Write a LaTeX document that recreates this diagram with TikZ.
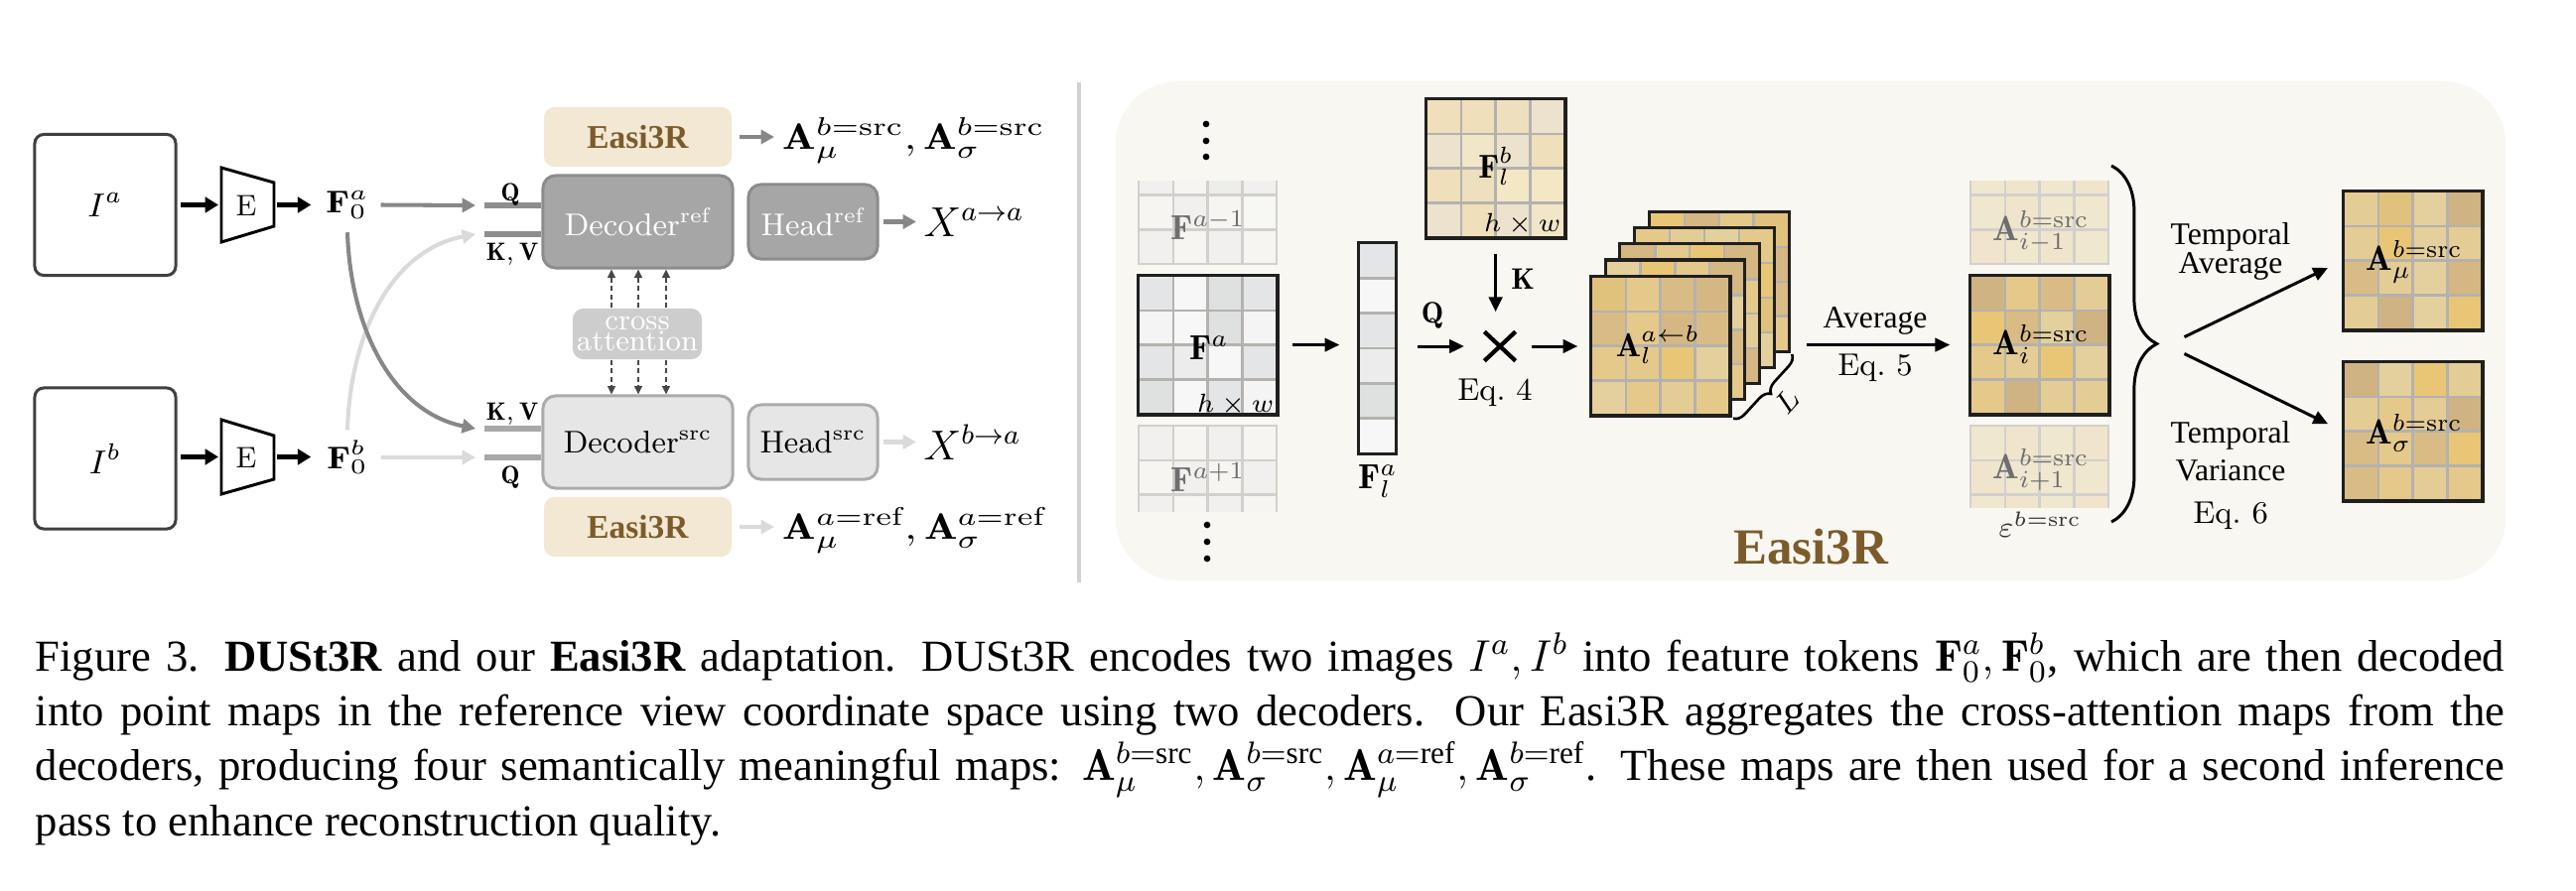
\RequirePackage{fix-cm}
\documentclass[tikz,border=0pt]{standalone}
\usepackage{amsmath}
\usepackage{graphicx}
\usepackage{fontspec}
\newfontfamily\tnr{Liberation Serif}
\usetikzlibrary{arrows.meta,decorations.pathreplacing}

\definecolor{panelbg}{HTML}{F9F7F1}
\definecolor{sepc}{HTML}{D2D2D2}
\definecolor{refc}{HTML}{878787}
\definecolor{srcc}{HTML}{DADADA}
\definecolor{stubref}{HTML}{8E8E8E}
\definecolor{stubsrc}{HTML}{A8A8A8}
\definecolor{decref}{HTML}{A6A6A6}
\definecolor{decrefb}{HTML}{8C8C8C}
\definecolor{decsrc}{HTML}{E6E6E6}
\definecolor{decsrcb}{HTML}{ABABAB}
\definecolor{easibg}{HTML}{F2E8D3}
\definecolor{easitx}{HTML}{7C5B2B}
\definecolor{cabg}{HTML}{CDCDCD}
\definecolor{gline}{HTML}{B4B2AE}
\definecolor{fline}{HTML}{D2D0CC}
\definecolor{labgray}{HTML}{6E6E6E}
\definecolor{gr1}{HTML}{E4E5E6}
\definecolor{gr2}{HTML}{F4F4F4}
\definecolor{gr3}{HTML}{DFE0E0}
\definecolor{gr4}{HTML}{ECECEC}
\definecolor{gr5}{HTML}{F7F7F7}
\definecolor{be1}{HTML}{EFDFBA}
\definecolor{be2}{HTML}{F2E6C8}
\definecolor{be3}{HTML}{ECE2CD}
\definecolor{be4}{HTML}{F3E7C6}
\definecolor{be5}{HTML}{EEE0BF}
\definecolor{au1}{HTML}{E1C27C}
\definecolor{au2}{HTML}{D5B784}
\definecolor{au3}{HTML}{E5C98B}
\definecolor{au4}{HTML}{E3D09C}
\definecolor{au5}{HTML}{D9BC85}
\definecolor{au6}{HTML}{E9C676}
\definecolor{au7}{HTML}{D0B383}
\definecolor{au8}{HTML}{E4CC95}

\newcommand{\fsz}[1]{\fontsize{#1}{#1}\selectfont}
\newcommand{\wx}[1]{\scalebox{1.2}[1]{#1}}
\newcommand{\capfont}{\tnr\fontsize{12.7}{15.6}\selectfont}
\newcommand{\cellsz}{34.8}
\newcommand{\cellgrid}[3]{%
  \foreach \cc [count=\kk from 0] in {#3} {%
    \pgfmathtruncatemacro{\gci}{mod(\kk,4)}%
    \pgfmathtruncatemacro{\gri}{div(\kk,4)}%
    \fill[fill=\cc] ({#1+\cellsz*\gci},{#2+\cellsz*\gri}) rectangle ++(\cellsz,\cellsz);
  }}
\newcommand{\gridlines}[3]{%
  \foreach \ii in {1,2,3} {%
    \draw[#3] ({#1+\cellsz*\ii},#2) -- ++(0,139.2);
    \draw[#3] (#1,{#2+\cellsz*\ii}) -- ++(139.2,0);
  }}
\newcommand{\stacklayer}[3]{%
  \pgfmathsetmacro{\stx}{1603+14.8*#2}%
  \pgfmathsetmacro{\sty}{279-16.2*#2}%
  \cellgrid{\stx}{\sty}{#3}%
  \gridlines{\stx}{\sty}{gl}%
  \node[gnode] (#1) at ({\stx+69.6},{\sty+69.6}) {};
  \draw[gborder] (#1.north west) rectangle (#1.south east);
}

\tikzset{
 imgbox/.style={draw=black!75,line width=0.85pt,rounded corners=2.6pt,minimum width=1.42cm,minimum height=1.42cm,inner sep=0pt},
 enc/.style={draw=black,line width=0.85pt},
 barrow/.style={line width=1.25pt,-{Triangle[length=3.8pt,width=4.4pt]},shorten <=0.85pt,shorten >=0.85pt},
 garrow/.style={draw=#1,line width=1.15pt,-{Triangle[length=3.8pt,width=4pt]}},
 stub/.style={draw=#1,line width=1.7pt},
 dec/.style={rounded corners=3.6pt,line width=0.85pt,inner sep=0pt,font={\fsz{9}}},
 decR/.style={dec,fill=decref,draw=decrefb,text=white},
 decS/.style={dec,fill=decsrc,draw=decsrcb,text=black},
 easibox/.style={fill=easibg,rounded corners=3pt,inner sep=0pt,text=easitx,font={\tnr\bfseries\fsz{9.5}},minimum width=1.89cm,minimum height=0.6cm},
 cabox/.style={fill=cabg,rounded corners=3pt,inner sep=0pt,text=white,align=center,font={\fontsize{8.5}{6.2}\selectfont},minimum width=1.3cm,minimum height=0.51cm},
 darrow/.style={draw=black!72,line width=0.55pt,dash pattern=on 1.5pt off 0.9pt,-{Triangle[length=2.4pt,width=2.2pt]}},
 qk/.style={inner sep=0pt,font={\fsz{7.2}},anchor=base},
 gnode/.style={minimum width=1.392cm,minimum height=1.392cm,inner sep=0pt},
 gl/.style={draw=gline,line width=0.7pt},
 fgl/.style={draw=fline,line width=0.7pt},
 gborder/.style={draw=black!88,line width=0.9pt},
 rarrow/.style={line width=0.85pt,-{Triangle[length=4.2pt,width=3.8pt]}},
 lab/.style={inner sep=0pt,anchor=base},
}

\begin{document}
\begin{tikzpicture}[x=0.01cm,y=-0.01cm]
\useasboundingbox (0,0) rectangle (2595,897);
\fill[white] (0,0) rectangle (2595,897);

% ================= left panel =================
\node[imgbox] (Ia) at (106,206.5) {\fsz{9.5}$I^a$};
\node[imgbox] (Ib) at (106,462) {\fsz{9.5}$I^b$};

\coordinate (EaL) at (223,206.5); \coordinate (EaR) at (276,206.5);
\coordinate (EbL) at (223,460.5); \coordinate (EbR) at (276,460.5);
\draw[enc] (223,169) -- (276,184) -- (276,228) -- (223,244) -- cycle;
\draw[enc] (223,423) -- (276,439) -- (276,483) -- (223,498) -- cycle;
\node[font={\fsz{8.5}},inner sep=0pt] (Ea) at (248,207) {E};
\node[font={\fsz{8.5}},inner sep=0pt] (Eb) at (248,461) {E};

\node[inner sep=0pt,minimum width=0.66cm,minimum height=0.54cm,font={\fsz{9}}] (F0a) at (350,206.5) {\wx{$\mathbf{F}_0^a$}};
\node[inner sep=0pt,minimum width=0.66cm,minimum height=0.54cm,font={\fsz{9}}] (F0b) at (350,461) {\wx{$\mathbf{F}_0^b$}};

\draw[barrow] (Ia.east) -- (EaL);
\draw[barrow] (EaR) -- (F0a.west);
\draw[barrow] (Ib.east |- EbL) -- (EbL);
\draw[barrow] (EbR) -- (F0b.west |- EbR);

\node[decR,minimum width=1.91cm,minimum height=0.93cm] (Dref) at (642.5,223.5) {Decoder$^{\mathrm{ref}}$};
\node[decS,minimum width=1.91cm,minimum height=0.93cm] (Dsrc) at (642.5,445.5) {Decoder$^{\mathrm{src}}$};
\node[decR,minimum width=1.30cm,minimum height=0.75cm] (Href) at (819,223.5) {Head$^{\mathrm{ref}}$};
\node[decS,minimum width=1.30cm,minimum height=0.75cm] (Hsrc) at (819,445.5) {Head$^{\mathrm{src}}$};
\node[easibox] (E1) at (642.5,138) {Easi3R};
\node[easibox] (E2) at (642.5,531) {Easi3R};
\node[cabox] (CA) at (642,336.5) {cross\\attention};

\coordinate (qrefin) at (479,207);  \coordinate (qrefs) at (488,207);
\coordinate (kvrefin) at (479,236); \coordinate (kvrefs) at (488,236);
\coordinate (kvsrcin) at (479,432); \coordinate (kvsrcs) at (488,432);
\coordinate (qsrcin) at (479,461);  \coordinate (qsrcs) at (488,461);

\draw[stub=stubref] (qrefs) -- (qrefs -| Dref.west);
\draw[stub=stubref] (kvrefs) -- (kvrefs -| Dref.west);
\draw[stub=stubsrc] (kvsrcs) -- (kvsrcs -| Dsrc.west);
\draw[stub=stubsrc] (qsrcs) -- (qsrcs -| Dsrc.west);

\draw[garrow=refc] (F0a.east) -- (qrefin);
\draw[garrow=srcc] (F0b.east) -- (qsrcin);
\draw[garrow=srcc] (F0b.north) .. controls (353,335) and (395,252) .. (kvrefin);
\draw[garrow=refc] (F0a.south) .. controls (353,330) and (395,415) .. (kvsrcin);

\node[qk] (Qr) at (514,202) {$\mathbf{Q}$};
\node[qk] (KVr) at (516,262) {$\mathbf{K},\mathbf{V}$};
\node[qk] (KVs) at (516,423) {$\mathbf{K},\mathbf{V}$};
\node[qk] (Qs) at (514,487) {$\mathbf{Q}$};

\coordinate (cx1) at (616,0); \coordinate (cx2) at (643,0); \coordinate (cx3) at (671,0);
\foreach \c in {cx1,cx2,cx3} {
  \draw[darrow] (CA.north -| \c) -- (Dref.south -| \c);
  \draw[darrow] (CA.south -| \c) -- (Dsrc.north -| \c);
}

\node[lab,anchor=base west,font={\fsz{10.5}}] (Atop) at (788,150) {\wx{$\mathbf{A}_\mu^{b=\mathrm{src}}, \mathbf{A}_\sigma^{b=\mathrm{src}}$}};
\node[lab,anchor=base west,font={\fsz{10.5}}] (Abot) at (788,543) {\wx{$\mathbf{A}_\mu^{a=\mathrm{ref}}, \mathbf{A}_\sigma^{a=\mathrm{ref}}$}};
\node[lab,anchor=base west,font={\fsz{12}}] (Xaa) at (930,238) {$X^{a\to a}$};
\node[lab,anchor=base west,font={\fsz{12}}] (Xba) at (930,463) {$X^{b\to a}$};

\draw[garrow=refc,shorten <=2pt,shorten >=2.3pt] (E1.east) -- (E1.east -| Atop.west);
\draw[garrow=srcc,shorten <=2pt,shorten >=2.3pt] (E2.east) -- (E2.east -| Abot.west);
\draw[garrow=refc,shorten <=1.4pt,shorten >=2pt] (Href.east) -- (Href.east -| Xaa.west);
\draw[garrow=srcc,shorten <=1.4pt,shorten >=2pt] (Hsrc.east) -- (Hsrc.east -| Xba.west);

% separator
\draw[draw=sepc,line width=1.2pt] (1087,83) -- (1087,587);

% ================= right panel =================
\node[fill=panelbg,rounded corners=0.64cm,minimum width=14cm,minimum height=5.03cm,inner sep=0pt] (panel) at (1824,333.5) {};

% F^{a-1}
\begin{scope}
\clip (1140,182) rectangle (1295,269);
\begin{scope}[fill opacity=0.55]\cellgrid{1147}{127}{gr2,gr4,gr2,gr4,gr4,gr2,gr1,gr4,gr2,gr4,gr2,gr5,gr4,gr2,gr4,gr2}\end{scope}
\gridlines{1147}{127}{fgl}
\draw[fgl] (1147,127) rectangle ++(139.2,139.2);
\end{scope}
\node[lab,text=labgray,font={\fsz{10}}] (Famlab) at (1217,241) {$\mathbf{F}^{a-1}$};

% F^a
\cellgrid{1147}{278}{gr1,gr5,gr3,gr1,gr2,gr5,gr3,gr2,gr1,gr4,gr5,gr1,gr3,gr5,gr1,gr2}
\gridlines{1147}{278}{gl}
\node[gnode] (Fa) at (1216.6,347.6) {};
\draw[gborder] (Fa.north west) rectangle (Fa.south east);
\node[lab,font={\fsz{10}}] (Falab) at (1218,362) {$\mathbf{F}^a$};
\node[lab,anchor=base east,font={\fsz{7.5}}] (Fahw) at (1284,415) {$h\times w$};

% F^{a+1}
\begin{scope}
\clip (1140,427) rectangle (1295,515);
\begin{scope}[fill opacity=0.55]\cellgrid{1147}{429}{gr4,gr2,gr4,gr2,gr2,gr4,gr2,gr4,gr4,gr2,gr4,gr2,gr2,gr4,gr2,gr4}\end{scope}
\gridlines{1147}{429}{fgl}
\draw[fgl] (1147,429) rectangle ++(139.2,139.2);
\end{scope}
\node[lab,text=labgray,font={\fsz{10}}] (Faplab) at (1217,495) {$\mathbf{F}^{a+1}$};

\foreach \yy in {125,142,158} \fill (1215,\yy) circle (0.95pt);
\foreach \yy in {529,546,563} \fill (1216,\yy) circle (0.95pt);

% F_l^a column
\foreach \cc [count=\kk from 0] in {gr1,gr5,gr1,gr4,gr3,gr5} \fill[fill=\cc] (1369,{245+35.33*\kk}) rectangle ++(37,35.33);
\foreach \ii in {1,...,5} \draw[gl] (1369,{245+35.33*\ii}) -- ++(37,0);
\node[minimum width=0.37cm,minimum height=2.12cm,inner sep=0pt] (Fla) at (1387.5,351) {};
\draw[gborder] (Fla.north west) rectangle (Fla.south east);
\node[lab,font={\fsz{10}}] (Flalab) at (1388,492) {$\mathbf{F}_l^a$};

% F_l^b
\cellgrid{1437}{100}{be1,be1,be5,be3,be3,be2,be3,be1,be1,be5,be4,be4,be3,be1,be3,be2}
\gridlines{1437}{100}{gl}
\node[gnode] (Flb) at (1506.6,169.6) {};
\draw[gborder] (Flb.north west) rectangle (Flb.south east);
\node[lab,font={\fsz{9.5}}] (Flblab) at (1507,179) {$\mathbf{F}_l^b$};
\node[lab,anchor=base east,font={\fsz{7.5}}] (Flbhw) at (1573,233) {$h\times w$};

% multiplication
\node[minimum width=0.3cm,minimum height=0.28cm,inner sep=0pt] (mult) at (1511,349) {};
\draw[line width=1.2pt] (mult.north west) -- (mult.south east) (mult.south west) -- (mult.north east);

% stack of attention maps
\stacklayer{Al4}{4}{au6,au2,au3,au1,au3,au5,au8,au2,au4,au6,au3,au5,au8,au2,au1,au3}
\stacklayer{Al3}{3}{au3,au8,au4,au3,au1,au2,au3,au6,au5,au4,au8,au1,au2,au3,au6,au4}
\stacklayer{Al2}{2}{au2,au3,au6,au2,au8,au1,au4,au3,au3,au6,au5,au8,au1,au4,au3,au2}
\stacklayer{Al1}{1}{au4,au6,au3,au2,au3,au8,au1,au4,au2,au3,au6,au5,au8,au1,au4,au3}
\stacklayer{Al0}{0}{au1,au3,au5,au2,au5,au3,au2,au5,au3,au3,au6,au4,au4,au3,au8,au3}
\node[lab,font={\fsz{9.5}}] (Allab) at (1670,359) {$\mathbf{A}_l^{a\leftarrow b}$};

\draw[rarrow,shorten <=4.2pt,shorten >=5.4pt] (Fa.east) -- (Fa.east -| Fla.west);
\draw[rarrow,shorten <=6pt,shorten >=5.8pt] (mult.west -| Fla.east) -- (mult.west);
\draw[rarrow,shorten <=4.5pt,shorten >=5.7pt] (Flb.south) -- (Flb.south |- mult.north);
\draw[rarrow,shorten <=4.5pt,shorten >=3.7pt] (mult.east) -- (mult.east -| Al0.west);
\node[lab,font={\fsz{8.5}}] (Qlab) at (1443,325) {$\mathbf{Q}$};
\node[lab,font={\fsz{8.5}}] (Klab) at (1534,291) {$\mathbf{K}$};
\node[lab,font={\fsz{9}}] (eq4) at (1506,403) {Eq.~4};

\draw[decorate,decoration={brace,amplitude=3.2pt,raise=1.2pt},line width=0.75pt] (Al4.south east) -- (Al0.south east);
\node[rotate=48,font={\fsz{8.5}},inner sep=0pt] (Llab) at (1800,405) {$L$};

% A_i column
\begin{scope}
\clip (1980,182) rectangle (2130,269);
\begin{scope}[fill opacity=0.4]\cellgrid{1985}{127}{au8,au4,au4,au4,au4,au8,au4,au8,au4,au8,au4,au4,au8,au4,au8,au4}\end{scope}
\gridlines{1985}{127}{fgl}
\draw[fgl] (1985,127) rectangle ++(139.2,139.2);
\end{scope}
\node[lab,text=labgray,font={\fsz{10}}] (Aimlab) at (2056,242) {$\mathbf{A}_{i-1}^{b=\mathrm{src}}$};

\cellgrid{1985}{278}{au7,au3,au5,au8,au6,au5,au4,au7,au3,au8,au6,au4,au3,au7,au8,au8}
\gridlines{1985}{278}{gl}
\node[gnode] (Ai) at (2054.6,347.6) {};
\draw[gborder] (Ai.north west) rectangle (Ai.south east);
\node[lab,font={\fsz{10}}] (Ailab) at (2056,357) {$\mathbf{A}_{i}^{b=\mathrm{src}}$};

\begin{scope}
\clip (1980,427) rectangle (2130,511);
\begin{scope}[fill opacity=0.4]\cellgrid{1985}{429}{au4,au8,au4,au8,au8,au4,au4,au4,au4,au8,au4,au8,au8,au4,au8,au4}\end{scope}
\gridlines{1985}{429}{fgl}
\draw[fgl] (1985,429) rectangle ++(139.2,139.2);
\end{scope}
\node[lab,text=labgray,font={\fsz{10}}] (Aiplab) at (2056,482) {$\mathbf{A}_{i+1}^{b=\mathrm{src}}$};

\draw[rarrow,shorten <=5pt,shorten >=5.7pt] (Al4.east |- Ai.west) -- (Ai.west);
\node[lab,font={\tnr\fsz{9}}] (avglab) at (1889,330) {Average};
\node[lab,font={\fsz{9}}] (eq5) at (1889,378) {Eq.~5};

\node[lab,font={\fsz{8.5}},text=black!80] (eps) at (2055,541) {$\varepsilon^{b=\mathrm{src}}$};

\coordinate (bt) at (2127,167); \coordinate (bb) at (2127,526);
\draw[decorate,decoration={brace,amplitude=13pt},line width=0.85pt] (bt) -- (bb);
\coordinate (btip) at (2183,348);

% A_mu, A_sigma
\cellgrid{2361}{193}{au8,au1,au4,au7,au8,au6,au4,au8,au5,au8,au4,au2,au8,au7,au4,au6}
\gridlines{2361}{193}{gl}
\node[gnode] (Amu) at (2430.6,262.6) {};
\draw[gborder] (Amu.north west) rectangle (Amu.south east);
\node[lab,font={\fsz{10}}] (Amulab) at (2432,272) {$\mathbf{A}_{\mu}^{b=\mathrm{src}}$};

\cellgrid{2361}{365}{au7,au4,au6,au8,au8,au3,au8,au7,au5,au3,au5,au6,au5,au3,au8,au3}
\gridlines{2361}{365}{gl}
\node[gnode] (Asig) at (2430.6,434.6) {};
\draw[gborder] (Asig.north west) rectangle (Asig.south east);
\node[lab,font={\fsz{10}}] (Asiglab) at (2432,447) {$\mathbf{A}_{\sigma}^{b=\mathrm{src}}$};

\draw[rarrow,shorten <=5.5pt,shorten >=4.8pt] (btip) -- (Amu.west);
\draw[rarrow,shorten <=5.5pt,shorten >=4.8pt] (btip) -- (Asig.west);

\node[lab,font={\tnr\fsz{9}}] (t1) at (2247,246) {Temporal};
\node[lab,font={\tnr\fsz{9}}] (t2) at (2247,275) {Average};
\node[lab,font={\tnr\fsz{9}}] (t3) at (2247,446) {Temporal};
\node[lab,font={\tnr\fsz{9}}] (t4) at (2247,484) {Variance};
\node[lab,font={\fsz{9}}] (eq6) at (2247,527) {Eq.~6};

\node[lab,font={\tnr\bfseries\fsz{14.5}},text=easitx] (bigE) at (1824,568) {Easi3R};

% ================= caption =================
\node[lab,anchor=base west] (cap1) at (35,676) {\capfont\makebox[24.86cm][s]{Figure 3. \textbf{DUSt3R} and our \textbf{Easi3R} adaptation.  DUSt3R encodes two images $I^a, I^b$ into feature tokens $\mathbf{F}^a_0, \mathbf{F}^b_0$, which are then decoded}};
\node[lab,anchor=base west] (cap2) at (35,731) {\capfont\makebox[24.86cm][s]{into point maps in the reference view coordinate space using two decoders.  Our Easi3R aggregates the cross-attention maps from the}};
\node[lab,anchor=base west] (cap3) at (35,786) {\capfont\makebox[24.86cm][s]{decoders, producing four semantically meaningful maps: $\mathbf{A}_\mu^{b=\text{src}}, \mathbf{A}_\sigma^{b=\text{src}}, \mathbf{A}_\mu^{a=\text{ref}}, \mathbf{A}_\sigma^{b=\text{ref}}$. These maps are then used for a second inference}};
\node[lab,anchor=base west] (cap4) at (35,842) {\capfont pass to enhance reconstruction quality.};
\end{tikzpicture}
\end{document}
